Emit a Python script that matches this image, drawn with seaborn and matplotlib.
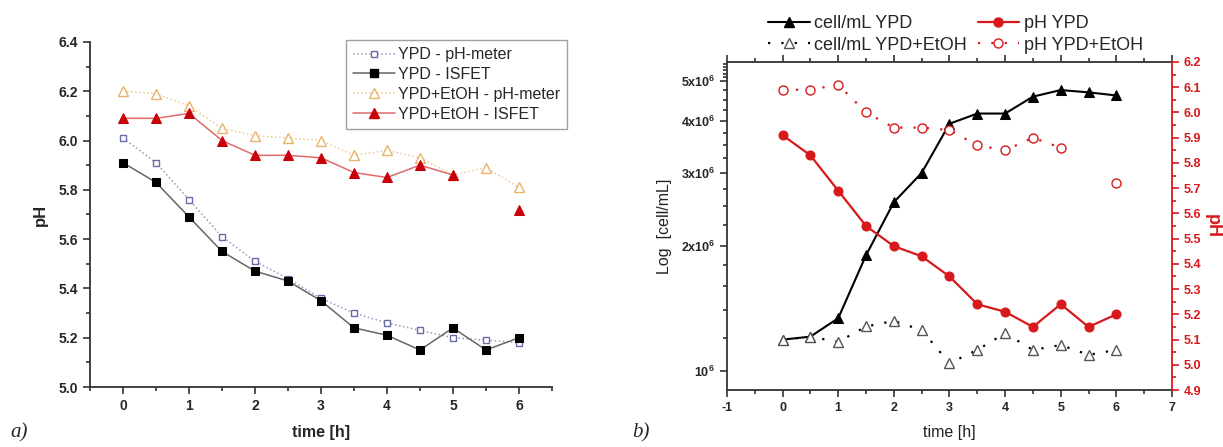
import numpy as np
import pandas as pd
import matplotlib
matplotlib.use("Agg")
import matplotlib.pyplot as plt
import seaborn as sns
from matplotlib.lines import Line2D
from matplotlib.ticker import MultipleLocator, FixedLocator, FixedFormatter, NullFormatter

# --- data ---
time_h = [0, 0.5, 1, 1.5, 2, 2.5, 3, 3.5, 4, 4.5, 5, 5.5, 6]

ph_ypd_meter = [6.01, 5.91, 5.76, 5.61, 5.51, 5.44, 5.36, 5.30, 5.26, 5.23, 5.20, 5.19, 5.18]
ph_ypd_isfet = [5.91, 5.83, 5.69, 5.55, 5.47, 5.43, 5.35, 5.24, 5.21, 5.15, 5.24, 5.15, 5.20]
ph_etoh_meter = [6.20, 6.19, 6.14, 6.05, 6.02, 6.01, 6.00, 5.94, 5.96, 5.93, 5.86, 5.89, 5.81]
ph_etoh_isfet = [6.09, 6.09, 6.11, 6.00, 5.94, 5.94, 5.93, 5.87, 5.85, 5.90, 5.86, np.nan, 5.72]

cells_ypd = [1.19e6, 1.21e6, 1.34e6, 1.90e6, 2.55e6, 3.00e6, 3.94e6, 4.17e6, 4.17e6,
             4.58e6, 4.75e6, 4.69e6, 4.61e6]
cells_etoh = [1.19e6, 1.21e6, 1.175e6, 1.28e6, 1.32e6, 1.255e6, 1.044e6, 1.124e6, 1.233e6,
              1.124e6, 1.155e6, 1.094e6, 1.124e6]

cell_ticks = [1e6, 2e6, 3e6, 4e6, 5e6]
cell_tick_labels = [r"$\mathbf{10^{6}}$", r"$\mathbf{2x10^{6}}$", r"$\mathbf{3x10^{6}}$",
                    r"$\mathbf{4x10^{6}}$", r"$\mathbf{5x10^{6}}$"]

sns.set_theme(style="white")
plt.rcParams["font.family"] = ["Liberation Sans", "DejaVu Sans"]
plt.rcParams["mathtext.fontset"] = "custom"
plt.rcParams["mathtext.rm"] = "Liberation Sans"
plt.rcParams["mathtext.bf"] = "Liberation Sans:bold"
plt.rcParams["axes.unicode_minus"] = False

GRAY = "#333333"
RED = "#d7191c"


def draw(ax, y, **kw):
    # split at NaN so gaps stay gaps (seaborn drops NaN rows otherwise)
    s = pd.Series(y, dtype=float)
    df = pd.DataFrame({"t": time_h, "v": s, "seg": s.isna().cumsum()}).dropna()
    sns.lineplot(data=df, x="t", y="v", units="seg", estimator=None, ax=ax,
                 legend=False, **kw)


fig = plt.figure(figsize=(12.23, 4.47), dpi=100)

# ---------------- panel a ----------------
axa = fig.add_axes([0.0736, 0.1342, 0.3777, 0.772])

sty_a = {
    "YPD - pH-meter": dict(color="#9a9ac0", linestyle=":", linewidth=1.1, marker="s",
                           markersize=5, markerfacecolor="white", markeredgecolor="#6a6aa8",
                           markeredgewidth=1.0),
    "YPD - ISFET": dict(color="#666666", linestyle="-", linewidth=1.1, marker="s",
                        markersize=5.5, markerfacecolor="black", markeredgecolor="black"),
    "YPD+EtOH - pH-meter": dict(color="#f2c88a", linestyle=":", linewidth=1.1, marker="^",
                                markersize=6.5, markerfacecolor="white",
                                markeredgecolor="#e8b46a", markeredgewidth=1.0),
    "YPD+EtOH - ISFET": dict(color="#e06a6a", linestyle="-", linewidth=1.1, marker="^",
                             markersize=6.5, markerfacecolor="#c8000a",
                             markeredgecolor="#c8000a"),
}
series_a = {
    "YPD - pH-meter": ph_ypd_meter,
    "YPD - ISFET": ph_ypd_isfet,
    "YPD+EtOH - pH-meter": ph_etoh_meter,
    "YPD+EtOH - ISFET": ph_etoh_isfet,
}
for name, vals in series_a.items():
    draw(axa, vals, **sty_a[name])

axa.set_xlim(-0.5, 6.5)
axa.set_ylim(5.0, 6.4)
axa.xaxis.set_major_locator(FixedLocator(range(0, 7)))
axa.xaxis.set_minor_locator(FixedLocator([-0.5, 0.5, 1.5, 2.5, 3.5, 4.5, 5.5, 6.5]))
axa.yaxis.set_major_locator(MultipleLocator(0.2))
axa.yaxis.set_minor_locator(MultipleLocator(0.1))
axa.yaxis.set_major_formatter(plt.FormatStrFormatter("%.1f"))
for side in ["top", "right"]:
    axa.spines[side].set_visible(False)
for side in ["left", "bottom"]:
    axa.spines[side].set_color(GRAY)
    axa.spines[side].set_linewidth(1.3)
axa.tick_params(which="both", direction="out", color=GRAY, width=1.2,
                left=True, bottom=True, labelsize=10)
axa.tick_params(which="major", length=5)
axa.tick_params(which="minor", length=3)
for lab in axa.get_xticklabels() + axa.get_yticklabels():
    lab.set_fontweight("bold")
axa.set_xlabel("time [h]", fontsize=11.5, fontweight="bold", labelpad=9)
axa.set_ylabel("pH", fontsize=12, fontweight="bold", labelpad=8)

handles_a = [Line2D([], [], **sty_a[n]) for n in series_a]
leg_a = fig.legend(handles_a, list(series_a), loc="upper left",
                   bbox_to_anchor=(346 / 1223, 1 - 40 / 447), fontsize=11.5,
                   frameon=True, fancybox=False, edgecolor="#888888",
                   handlelength=2.6, handletextpad=0.2, labelspacing=0.3,
                   borderpad=0.45, borderaxespad=0)
leg_a.get_frame().set_linewidth(1.0)

fig.text(10 / 1223, 1 - 437 / 447, "a)", fontsize=15, style="italic",
         family=["Liberation Serif", "DejaVu Serif"])

# ---------------- panel b ----------------
axb = fig.add_axes([0.5944, 0.1275, 0.3639, 0.7338])
axr = axb.twinx()

sty_b = {
    "cell/mL YPD": dict(color="black", linestyle="-", linewidth=1.5, marker="^",
                        markersize=6.5, markerfacecolor="black", markeredgecolor="black"),
    "cell/mL YPD+EtOH": dict(color="black", linestyle=(0, (1, 5)), linewidth=1.6, marker="^",
                             markersize=6.5, markerfacecolor="white",
                             markeredgecolor="#555555", markeredgewidth=1.0),
    "pH YPD": dict(color=RED, linestyle="-", linewidth=1.6, marker="o", markersize=6.5,
                   markerfacecolor=RED, markeredgecolor=RED),
    "pH YPD+EtOH": dict(color=RED, linestyle=(0, (1, 5)), linewidth=1.6, marker="o",
                        markersize=6.5, markerfacecolor="white", markeredgecolor=RED,
                        markeredgewidth=1.0),
}

draw(axb, cells_ypd, **sty_b["cell/mL YPD"])
draw(axb, cells_etoh, **sty_b["cell/mL YPD+EtOH"])
draw(axr, ph_ypd_isfet, **sty_b["pH YPD"])
draw(axr, ph_etoh_isfet, **sty_b["pH YPD+EtOH"])

axb.set_yscale("log")
axb.set_ylim(0.9e6, 5.55e6)
axb.set_xlim(-1, 7)
axb.yaxis.set_major_locator(FixedLocator(cell_ticks))
axb.yaxis.set_major_formatter(FixedFormatter(cell_tick_labels))
minor_cells = [1.2e6, 1.4e6, 1.6e6, 1.8e6, 2.25e6, 2.5e6, 2.75e6, 3.25e6, 3.5e6, 3.75e6,
               4.25e6, 4.5e6, 4.75e6, 5.1e6, 5.2e6, 5.3e6, 5.4e6, 5.5e6]
axb.yaxis.set_minor_locator(FixedLocator(minor_cells))
axb.yaxis.set_minor_formatter(NullFormatter())
axb.xaxis.set_major_locator(MultipleLocator(1))
axb.xaxis.set_minor_locator(MultipleLocator(0.5))
axb.tick_params(axis="x", which="both", direction="out", top=True, bottom=True,
                color=GRAY, width=1.2, labelsize=9)
axb.tick_params(axis="x", which="both", top=True, labeltop=False)
axb.tick_params(axis="y", which="both", direction="out", left=True, color=GRAY,
                width=1.2, labelsize=9)
axb.tick_params(which="major", length=5)
axb.tick_params(which="minor", length=3)
for lab in axb.get_xticklabels():
    lab.set_fontweight("bold")
for side in ["left", "bottom", "top"]:
    axb.spines[side].set_color(GRAY)
    axb.spines[side].set_linewidth(1.3)
axb.spines["right"].set_visible(False)
axb.set_xlabel("time [h]", fontsize=11.5, labelpad=8, color="#222222")
axb.set_ylabel("Log  [cell/mL]", fontsize=11.5, labelpad=6, color="#222222")

axr.set_ylim(4.9, 6.2)
axr.yaxis.set_major_locator(MultipleLocator(0.1))
axr.yaxis.set_minor_locator(MultipleLocator(0.05))
axr.yaxis.set_major_formatter(plt.FormatStrFormatter("%.1f"))
axr.tick_params(axis="y", which="both", direction="out", right=True, color=RED,
                labelcolor=RED, width=1.2, labelsize=9)
axr.tick_params(which="major", length=5)
axr.tick_params(which="minor", length=3)
for lab in axr.get_yticklabels():
    lab.set_fontweight("bold")
for side in ["left", "bottom", "top"]:
    axr.spines[side].set_visible(False)
axr.spines["right"].set_color(RED)
axr.spines["right"].set_linewidth(1.3)
axr.set_ylabel("pH", fontsize=13, fontweight="bold", color=RED, rotation=270, labelpad=14)
axr.set_xlabel("")

names_b = ["cell/mL YPD", "cell/mL YPD+EtOH", "pH YPD", "pH YPD+EtOH"]
handles_b = [Line2D([], [], **sty_b[n]) for n in names_b]
fig.legend(handles_b, names_b, loc="upper left",
           bbox_to_anchor=(768 / 1223, 1 - 15 / 447), ncol=2,
           fontsize=13, frameon=False, handlelength=2.3, handletextpad=0.25,
           columnspacing=0.6, labelspacing=0.25, borderpad=0, borderaxespad=0)

fig.text(632 / 1223, 1 - 437 / 447, "b)", fontsize=15, style="italic",
         family=["Liberation Serif", "DejaVu Serif"])

fig.savefig("out.png", dpi=100)
